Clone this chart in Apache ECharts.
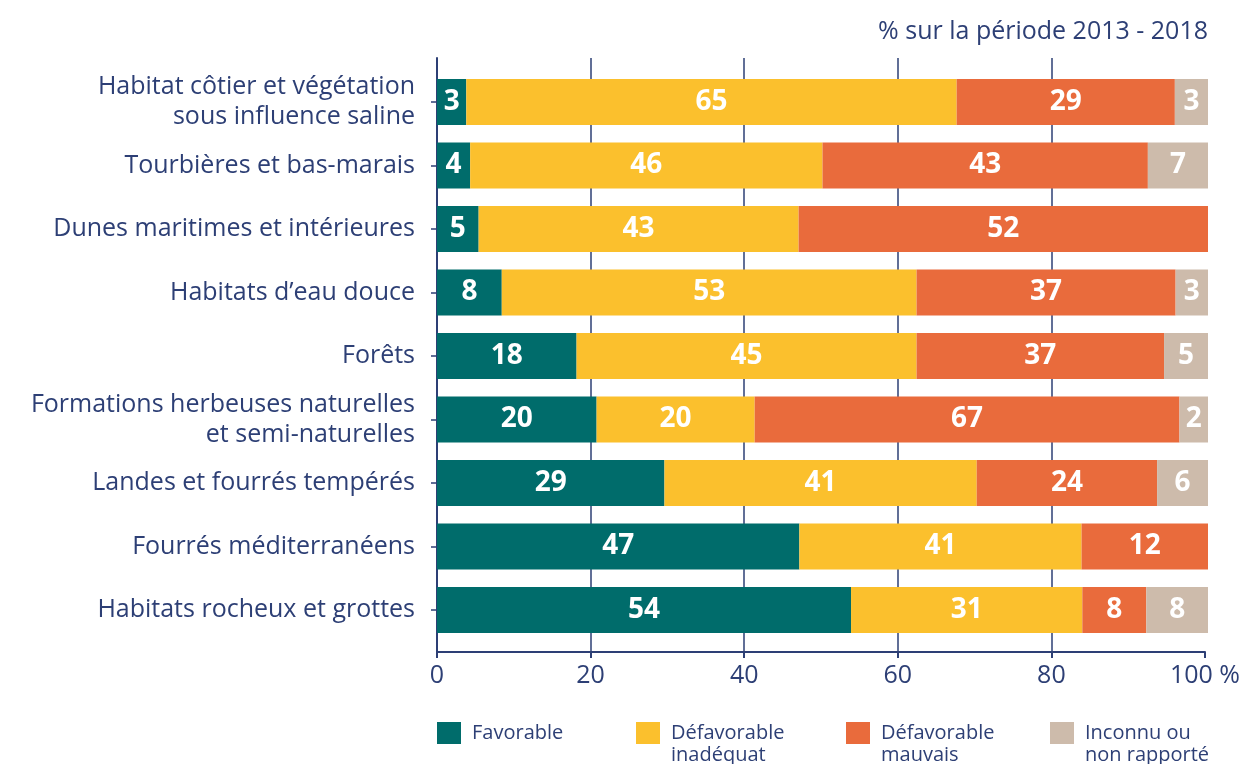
<!DOCTYPE html>
<html>
<head>
<meta charset="utf-8">
<script src="https://cdn.jsdelivr.net/npm/echarts@6/dist/echarts.min.js"></script>
<style>
html,body{margin:0;padding:0;background:#fff;}
#chart{width:1243px;height:764px;}
</style>
</head>
<body>
<div id="chart"></div>
<script>
const categories = [
  'Habitat côtier et végétation\nsous influence saline',
  'Tourbières et bas-marais',
  'Dunes maritimes et intérieures',
  'Habitats d\u2019eau douce',
  'Forêts',
  'Formations herbeuses naturelles\net semi-naturelles',
  'Landes et fourrés tempérés',
  'Fourrés méditerranéens',
  'Habitats rocheux et grottes'
];
const seriesNames = ['Favorable', 'Défavorable\ninadéquat', 'Défavorable\nmauvais', 'Inconnu ou\nnon rapporté'];
// bar lengths as drawn (%)
const favorable = [3.8, 4.3, 5.4, 8.4, 18.1, 20.7, 29.5, 47.0, 53.7];
const inadequat = [63.6, 45.7, 41.5, 53.8, 44.1, 20.5, 40.5, 36.6, 30.0];
const mauvais   = [28.3, 42.2, 53.1, 33.6, 32.1, 55.1, 23.4, 16.4, 8.3];
const inconnu   = [4.3, 7.8, 0, 4.2, 5.7, 3.7, 6.6, 0, 8.0];
// labels printed on the bars
const favorableLabels = [3, 4, 5, 8, 18, 20, 29, 47, 54];
const inadequatLabels = [65, 46, 43, 53, 45, 20, 41, 41, 31];
const mauvaisLabels   = [29, 43, 52, 37, 37, 67, 24, 12, 8];
const inconnuLabels   = [3, 7, null, 3, 5, 2, 6, null, 8];
const xTicks = [0, 20, 40, 60, 80, 100];
const unitText = '% sur la période 2013 - 2018';

const colors = ['#006c6b', '#fbc02d', '#e96b3c', '#cdbbab'];
const navy = '#2d3f75';
const FONT = '"Open Sans", sans-serif';

const values = [favorable, inadequat, mauvais, inconnu];
const labels = [favorableLabels, inadequatLabels, mauvaisLabels, inconnuLabels];

const chart = echarts.init(document.getElementById('chart'), null, {renderer: 'canvas'});

const series = values.map((vals, i) => ({
  name: seriesNames[i],
  type: 'bar',
  stack: 'total',
  xAxisIndex: 0,
  yAxisIndex: 0,
  barWidth: 46,
  data: vals,
  itemStyle: {color: colors[i]},
  label: {
    show: true,
    position: 'inside',
    color: '#ffffff',
    fontFamily: FONT,
    fontWeight: 'bold',
    fontSize: 28,
    formatter: p => (labels[i][p.dataIndex] == null ? '' : String(labels[i][p.dataIndex]))
  },
  emphasis: {disabled: true}
}));

const legendLefts = [437, 636, 846, 1050];
const legends = seriesNames.map((n, i) => {
  const twoLine = n.indexOf('\n') >= 0;
  return {
    data: [n],
    left: legendLefts[i],
    top: twoLine ? 700 : 722,
    padding: 0,
    itemWidth: 24,
    itemHeight: 22,
    icon: 'rect',
    selectedMode: false,
    formatter: name => (twoLine ? '\n' + name : name),
    textStyle: {
      color: navy,
      fontFamily: FONT,
      fontSize: 20,
      lineHeight: 22,
      padding: [0, 0, 0, 6]
    }
  };
});

chart.setOption({
  animation: false,
  title: {
    text: unitText,
    right: 30,
    top: 14,
    textStyle: {color: navy, fontFamily: FONT, fontWeight: 'normal', fontSize: 25}
  },
  legend: legends,
  grid: [
    {left: 437, right: 35, top: 70.25, height: 571.5, containLabel: false},
    {left: 437, right: 35, top: 58, bottom: 112, containLabel: false}
  ],
  xAxis: [
    {
      gridIndex: 0, type: 'value', min: 0, max: 100, interval: 20,
      show: false
    },
    {
      gridIndex: 1, type: 'value', min: 0, max: 100, interval: 20,
      axisLine: {show: true, lineStyle: {color: navy, width: 2}},
      axisTick: {show: true, length: 6, lineStyle: {color: navy, width: 2}},
      splitLine: {show: true, showMinLine: false, showMaxLine: false, lineStyle: {color: navy, width: 1.5}},
      axisLabel: {
        color: navy, fontFamily: FONT, fontSize: 25, margin: 11,
        formatter: v => (xTicks.indexOf(v) >= 0 ? (v === 100 ? '100 %' : String(v)) : '')
      }
    }
  ],
  yAxis: [
    {
      gridIndex: 0, type: 'category', data: categories, inverse: true,
      axisLine: {show: false},
      axisTick: {show: true, alignWithLabel: true, length: 6, lineStyle: {color: navy, width: 1.5}},
      splitLine: {show: false},
      axisLabel: {
        color: navy, fontFamily: FONT, fontSize: 25, lineHeight: 30, margin: 22, align: 'right'
      }
    },
    {
      gridIndex: 1, type: 'value', min: 0, max: 1,
      axisLine: {show: true, lineStyle: {color: navy, width: 2}},
      axisTick: {show: false},
      axisLabel: {show: false},
      splitLine: {show: false}
    }
  ],
  series: series
});
</script>
</body>
</html>
